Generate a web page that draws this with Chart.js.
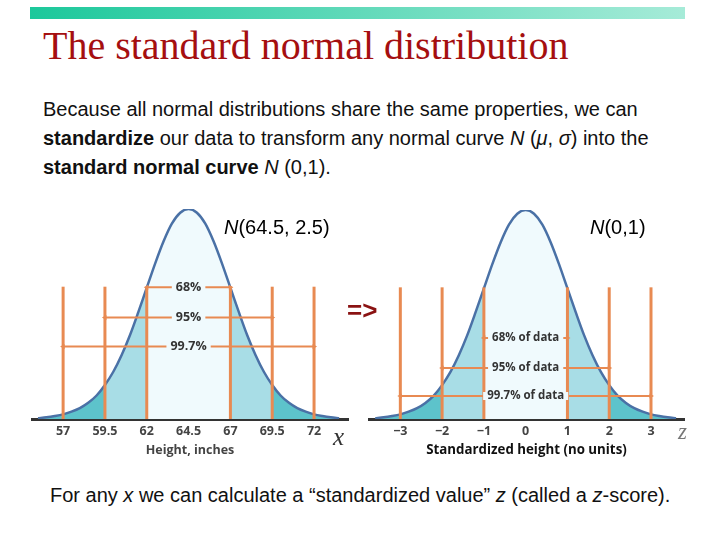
<!DOCTYPE html>
<html>
<head>
<meta charset="utf-8">
<script src="https://cdn.jsdelivr.net/npm/chart.js"></script>
<style>
  body { margin: 0; width: 720px; height: 540px; background: #fff; position: relative; overflow: hidden; font-family: "Liberation Sans", Arial, sans-serif; }
  .bar { position: absolute; left: 30px; top: 7px; width: 655px; height: 12px; background: linear-gradient(to right, #1cc89b, #a6ebd8); }
  h1 { position: absolute; left: 43px; top: 22px; margin: 0; font-family: "Liberation Serif", "Times New Roman", serif; font-weight: normal; font-size: 40px; color: #a50f10; white-space: nowrap; }
  .intro { position: absolute; left: 43px; top: 95px; margin: 0; font-size: 20px; line-height: 29px; color: #111; white-space: nowrap; }
  .txt { position: absolute; white-space: nowrap; }
  canvas { position: absolute; }
</style>
</head>
<body>
<div class="bar"></div>
<h1>The standard normal distribution</h1>
<p class="intro">Because all normal distributions share the same properties, we can<br><b>standardize</b> our data to transform any normal curve <i>N</i> (<i>μ</i>, <i>σ</i>) into the<br><b>standard normal curve</b> <i>N</i> (0,1).</p>

<canvas id="heightChart" width="324" height="260" style="left:28px; top:200px;"></canvas>
<canvas id="zChart" width="323" height="260" style="left:365px; top:200px;"></canvas>

<div class="txt" style="left:224px; top:216px; font-size:20px;"><i>N</i>(64.5, 2.5)</div>
<div class="txt" style="left:590px; top:216px; font-size:20px;"><i>N</i>(0,1)</div>
<div class="txt" style="left:347px; top:295px; font-size:26px; font-weight:bold; color:#8a1212;">=&gt;</div>
<div class="txt" style="left:333px; top:423px; font-size:25px; font-style:italic; font-family:'Liberation Serif', serif; color:#333;">x</div>
<div class="txt" style="left:678px; top:419px; font-size:23px; font-style:italic; font-family:'Liberation Serif', serif; color:#777;">z</div>
<div class="txt" style="left:50px; top:484px; font-size:20px; color:#111;">For any <i>x</i> we can calculate a “standardized value” <i>z</i> (called a <i>z</i>-score).</div>

<script>
// curve heights (peak = 1), same shape for both panels
const heightX = [55.5, 56, 56.5, 57, 57.5, 58, 58.5, 59, 59.5, 60, 60.5, 61, 61.5, 62, 62.5, 63, 63.5, 64, 64.5,
  65, 65.5, 66, 66.5, 67, 67.5, 68, 68.5, 69, 69.5, 70, 70.5, 71, 71.5, 72, 72.5, 73, 73.5];
const zX = [-3.6, -3.4, -3.2, -3, -2.8, -2.6, -2.4, -2.2, -2, -1.8, -1.6, -1.4, -1.2, -1, -0.8, -0.6, -0.4, -0.2, 0,
  0.2, 0.4, 0.6, 0.8, 1, 1.2, 1.4, 1.6, 1.8, 2, 2.2, 2.4, 2.6, 2.8, 3, 3.2, 3.4, 3.6];
const curveY = [0.004, 0.008, 0.014, 0.022, 0.035, 0.052, 0.077, 0.112, 0.162, 0.225, 0.305, 0.4, 0.51, 0.625, 0.74, 0.845, 0.93, 0.982, 1,
  0.982, 0.93, 0.845, 0.74, 0.625, 0.51, 0.4, 0.305, 0.225, 0.162, 0.112, 0.077, 0.052, 0.035, 0.022, 0.014, 0.008, 0.004];

const heightTicks = [57, 59.5, 62, 64.5, 67, 69.5, 72];
const zTicks = [-3, -2, -1, 0, 1, 2, 3];
const heightBands = ["68%", "95%", "99.7%"];
const zBands = ["68% of data", "95% of data", "99.7% of data"];
const heightBandLevels = [0.627, 0.483, 0.345];
const zBandLevels = [0.388, 0.244, 0.11];
const markerTop = 0.63;

const ORANGE = "#e88a52";
const CENTER = "#f0fafd";
const BAND = "#a8dde6";
const TAIL = "#5dc3cb";

function pick(xs, lo, hi) {
  const out = [];
  xs.forEach((x, i) => { if (x >= lo - 1e-9 && x <= hi + 1e-9) out.push({ x: x, y: curveY[i] }); });
  return out;
}

function buildChart(id, xs, ticks, bands, levels, range, axisTitle, sizes, tickFmt) {
  const t = ticks;
  const fills = [
    [xs[0], t[1], TAIL], [t[1], t[2], BAND], [t[2], t[4], CENTER], [t[4], t[5], BAND], [t[5], xs[xs.length - 1], TAIL]
  ].map(r => ({
    data: pick(xs, r[0], r[1]), backgroundColor: r[2], fill: "origin",
    borderWidth: 0, pointRadius: 0, tension: 0.3, order: 5
  }));
  const curve = {
    data: pick(xs, xs[0], xs[xs.length - 1]), borderColor: "#4a71a6", borderWidth: 2.5,
    pointRadius: 0, fill: false, tension: 0.3, order: 4
  };
  const verticals = t.filter((v, i) => i !== 3).map(v => ({
    data: [{ x: v, y: 0 }, { x: v, y: markerTop }], borderColor: ORANGE, borderWidth: 3,
    pointRadius: 0, fill: false, order: 2
  }));
  const arrows = levels.map((lv, i) => ({
    data: [{ x: t[2 - i], y: lv }, { x: t[4 + i], y: lv }], borderColor: ORANGE, borderWidth: 2,
    pointStyle: "triangle", pointRadius: 3, pointRotation: [-90, 90],
    pointBackgroundColor: ORANGE, pointBorderColor: ORANGE, pointBorderWidth: 0, fill: false, order: 1
  }));

  const bandLabels = {
    id: "bandLabels",
    afterDatasetsDraw(chart) {
      const ctx = chart.ctx;
      const xs2 = chart.scales.x, ys = chart.scales.y;
      ctx.save();
      ctx.font = "bold " + sizes.band + "px 'Open Sans', sans-serif";
      ctx.textAlign = "center";
      ctx.textBaseline = "middle";
      bands.forEach((b, i) => {
        const cx = xs2.getPixelForValue(t[3]);
        const cy = ys.getPixelForValue(levels[i]);
        const w = ctx.measureText(b).width + 8;
        ctx.fillStyle = CENTER;
        ctx.fillRect(cx - w / 2, cy - 4, w, 8);
        ctx.fillStyle = "#333";
        ctx.fillText(b, cx, cy);
      });
      ctx.restore();
    }
  };

  return new Chart(document.getElementById(id).getContext("2d"), {
    type: "line",
    data: { datasets: fills.concat([curve], verticals, arrows) },
    options: {
      responsive: false,
      animation: false,
      layout: { padding: { top: sizes.top, left: 0, right: 0, bottom: 0 } },
      plugins: { legend: { display: false }, tooltip: { enabled: false } },
      scales: {
        x: {
          type: "linear", min: range[0], max: range[1], z: 1,
          grid: { display: false, drawTicks: false },
          border: { display: true, color: "#333", width: 3 },
          afterBuildTicks: s => { s.ticks = ticks.map(v => ({ value: v })); },
          afterFit: s => { s.height = 41; },
          ticks: {
            autoSkip: false, maxRotation: 0, padding: 5, color: "#444",
            font: { family: "'Open Sans', sans-serif", size: 12.5, weight: "bold" },
            callback: tickFmt
          },
          title: {
            display: true, text: axisTitle, color: sizes.titleColor, padding: { top: 0, bottom: 2 },
            font: { family: "'Open Sans', sans-serif", size: sizes.title, weight: "bold" }
          }
        },
        y: { display: false, min: 0, max: 1 }
      }
    },
    plugins: [bandLabels]
  });
}

buildChart("heightChart", heightX, heightTicks, heightBands, heightBandLevels, [55.14, 74.03],
  "Height, inches", { top: 9, band: 12.5, title: 12.5, titleColor: "#444" }, v => String(v));
buildChart("zChart", zX, zTicks, zBands, zBandLevels, [-3.75, 3.79],
  "Standardized height (no units)", { top: 10, band: 11.5, title: 13.3, titleColor: "#111" },
  v => (v < 0 ? "\u2212" + Math.abs(v) : String(v)));
</script>
</body>
</html>
